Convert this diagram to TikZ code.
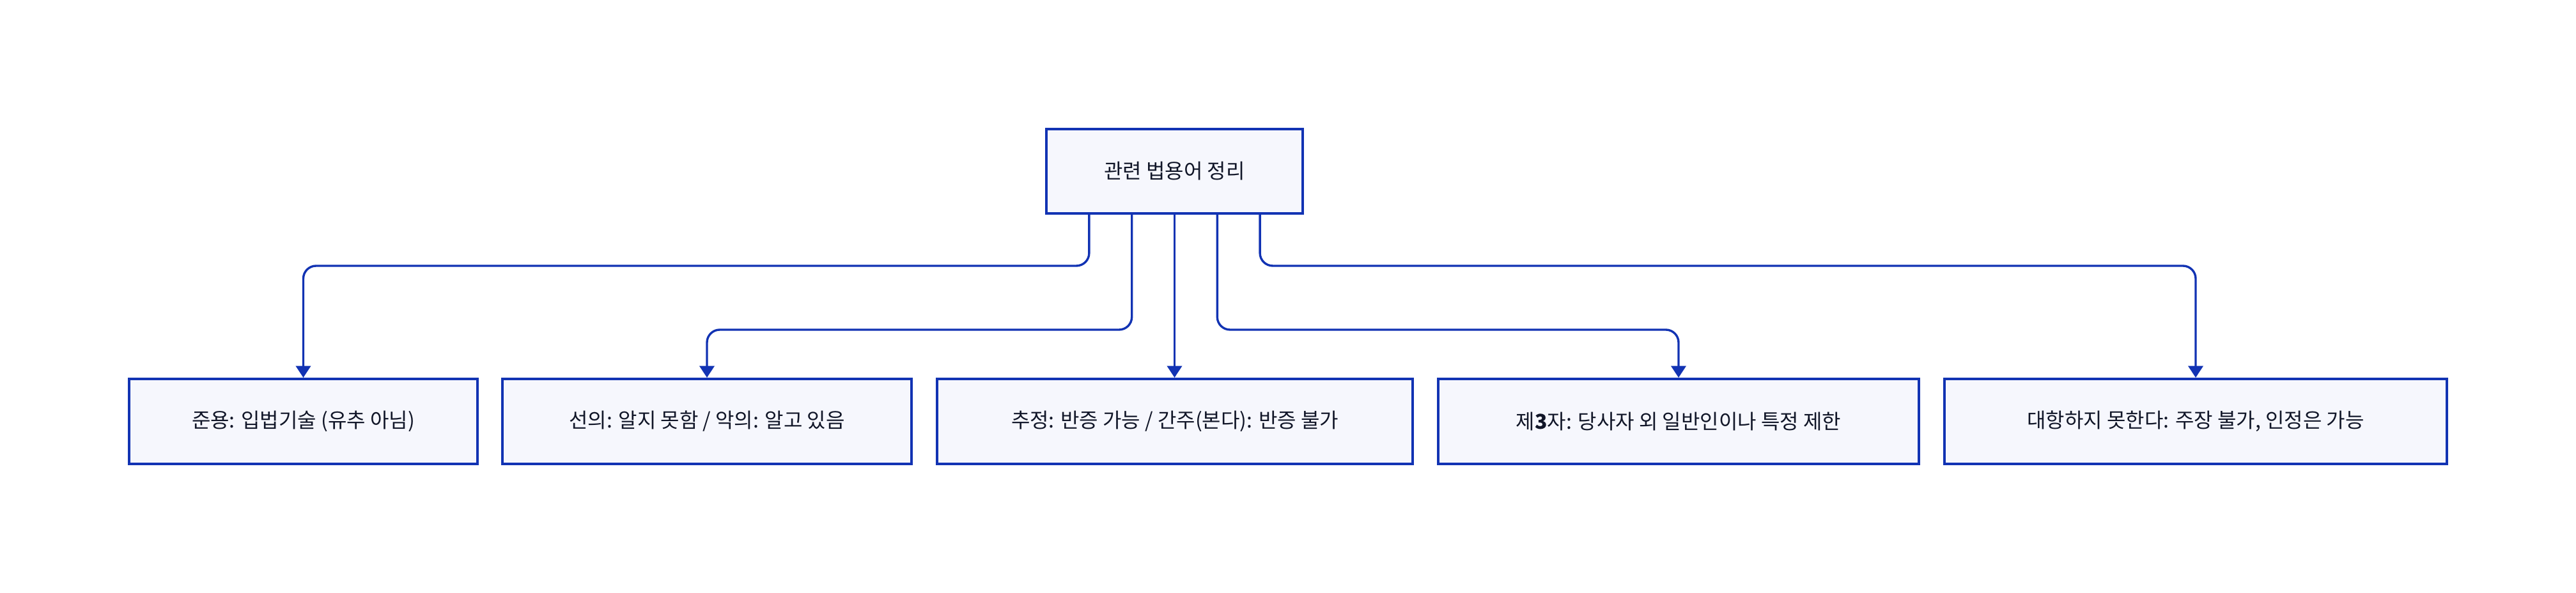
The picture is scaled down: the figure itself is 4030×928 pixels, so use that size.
\documentclass[tikz,border=0pt]{standalone}
\usepackage{fontspec}
\setmainfont{Noto Sans CJK KR}
\usetikzlibrary{arrows.meta,calc}
\definecolor{edgeblue}{RGB}{18,51,179}
\definecolor{boxfill}{RGB}{246,247,253}
\definecolor{txt}{RGB}{17,22,40}
\tikzset{
  box/.style={draw=edgeblue, fill=boxfill, line width=1pt, inner sep=0pt,
    minimum height=33.25pt, text=txt, font=\fontsize{8pt}{9.6pt}\selectfont},
  conn/.style={draw=edgeblue, line width=0.85pt, rounded corners=5pt,
    -{Triangle[width=5.8pt,length=4.6pt]}}
}
\begin{document}
\begin{tikzpicture}[x=0.25pt,y=-0.25pt]
\useasboundingbox (0,0) rectangle (4030,928);
\node[box, minimum width=100.25pt, minimum height=33pt] (top) at (1837.5,268) {관련 법용어 정리};
\node[box, minimum width=136.25pt] (b1) at (474.5,659.5) {준용: 입법기술 (유추 아님)};
\node[box, minimum width=160pt] (b2) at (1106,659.5) {선의: 알지 못함 / 악의: 알고 있음};
\node[box, minimum width=186pt] (b3) at (1838,659.5) {추정: 반증 가능 / 간주(본다): 반증 불가};
\node[box, minimum width=188pt] (b4) at (2626,659.5) {제\textbf{3}자: 당사자 외 일반인이나 특정 제한};
\node[box, minimum width=196.5pt] (b5) at (3435,659.5) {대항하지 못한다: 주장 불가, 인정은 가능};
\draw[conn] ([xshift=-33.4pt]top.south) -- ++(0,80) -| (b1.north);
\draw[conn] ([xshift=-16.7pt]top.south) -- ++(0,180) -| (b2.north);
\draw[conn] (top.south) -- (top.south |- b3.north);
\draw[conn] ([xshift=16.7pt]top.south) -- ++(0,180) -| (b4.north);
\draw[conn] ([xshift=33.4pt]top.south) -- ++(0,80) -| (b5.north);
\end{tikzpicture}
\end{document}
